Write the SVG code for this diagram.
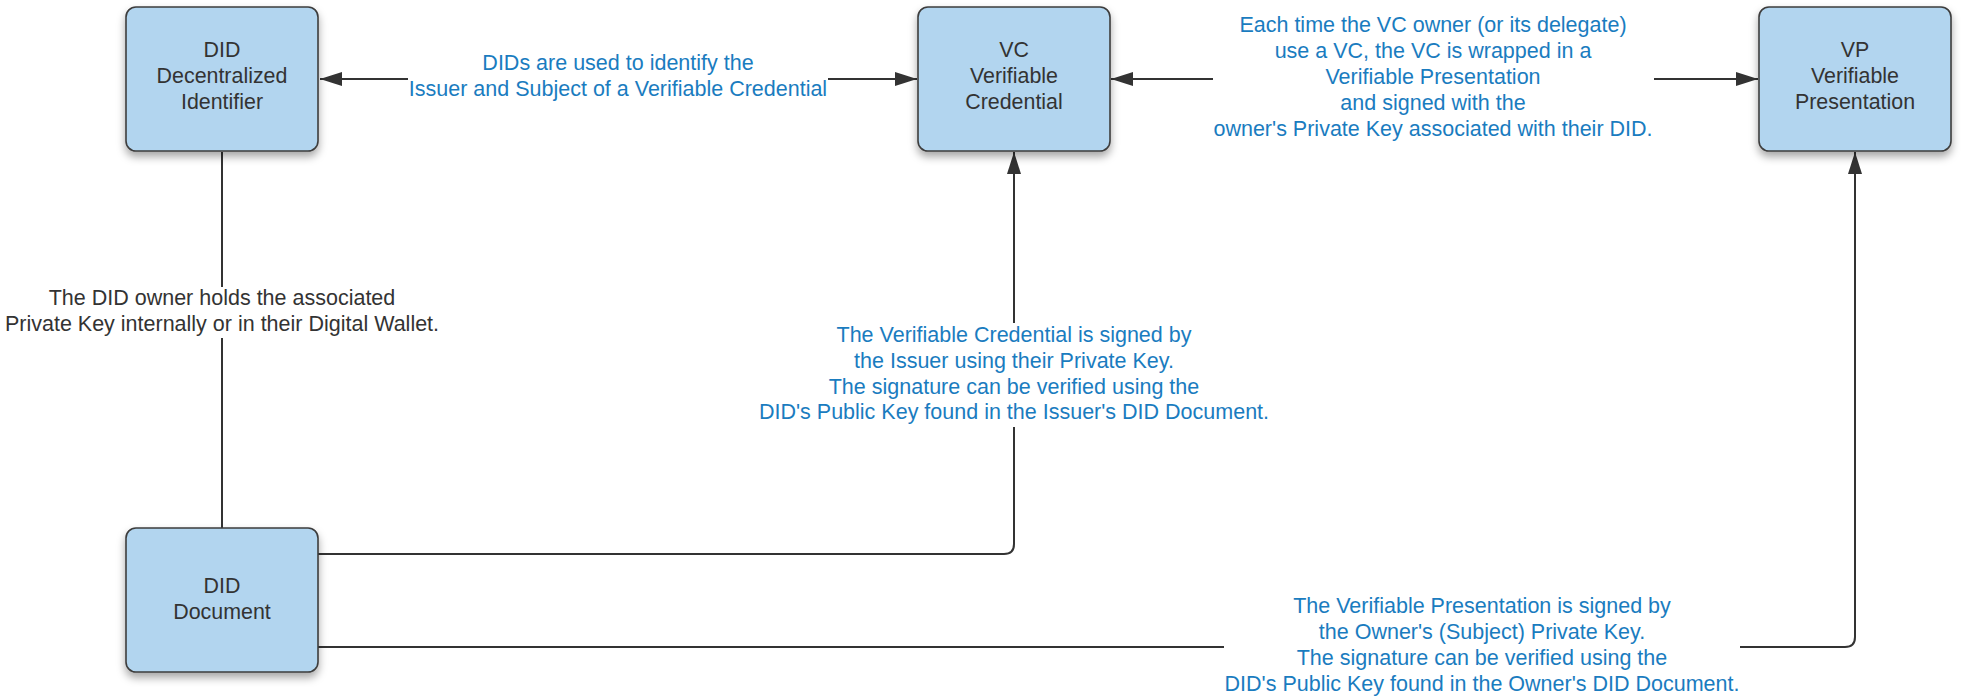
<svg xmlns="http://www.w3.org/2000/svg" width="1961" height="697" viewBox="0 0 1961 697">
  <style>
    .node rect { fill: #b2d5ef; stroke: #3d3d3d; stroke-width: 1.6; filter: url(#shadow); }
    .node text { font-family: "Liberation Sans", Arial, sans-serif; font-size: 21.4px; fill: #333333; text-anchor: middle; }
    .conn { fill: none; stroke: #333333; stroke-width: 2; }
    .lbl { font-family: "Liberation Sans", Arial, sans-serif; font-size: 21.5px; text-anchor: middle; }
    .blue { fill: #1a7cbf; }
    .dark { fill: #333333; }
  </style>
  <defs>
    <filter id="shadow" x="-20%" y="-20%" width="140%" height="150%">
      <feDropShadow dx="0" dy="5" stdDeviation="4" flood-color="#000000" flood-opacity="0.35"/>
    </filter>
    <marker id="arrow" markerUnits="userSpaceOnUse" markerWidth="24" markerHeight="16" viewBox="-22 -8 24 16" refX="0" refY="0" orient="auto">
      <path d="M0,0 L-22,-7 L-22,7 Z" fill="#333333"/>
    </marker>
  </defs>

  <rect width="1961" height="697" fill="#ffffff"/>

  <!-- connectors -->
  <g id="connectors">
    <!-- DID <-> VC -->
    <line class="conn" x1="408" y1="79" x2="320" y2="79" marker-end="url(#arrow)"/>
    <line class="conn" x1="828" y1="79" x2="917" y2="79" marker-end="url(#arrow)"/>
    <!-- VC <-> VP -->
    <line class="conn" x1="1213" y1="79" x2="1111" y2="79" marker-end="url(#arrow)"/>
    <line class="conn" x1="1654" y1="79" x2="1758" y2="79" marker-end="url(#arrow)"/>
    <!-- DID to DID Document -->
    <line class="conn" x1="222" y1="152" x2="222" y2="287"/>
    <line class="conn" x1="222" y1="338" x2="222" y2="528"/>
    <!-- DID Document to VC -->
    <path class="conn" d="M318,554 L1004,554 Q1014,554 1014,544 L1014,427"/>
    <line class="conn" x1="1014" y1="323" x2="1014" y2="152" marker-end="url(#arrow)"/>
    <!-- DID Document to VP -->
    <line class="conn" x1="318" y1="647" x2="1224" y2="647"/>
    <path class="conn" d="M1740,647 L1845,647 Q1855,647 1855,637 L1855,152" marker-end="url(#arrow)"/>

    <!-- connector labels -->
    <text class="lbl blue" x="618" y="70">DIDs are used to identify the</text>
    <text class="lbl blue" x="618" y="96">Issuer and Subject of a Verifiable Credential</text>

    <text class="lbl blue" x="1433" y="32">Each time the VC owner (or its delegate)</text>
    <text class="lbl blue" x="1433" y="58">use a VC, the VC is wrapped in a</text>
    <text class="lbl blue" x="1433" y="84">Verifiable Presentation</text>
    <text class="lbl blue" x="1433" y="110">and signed with the</text>
    <text class="lbl blue" x="1433" y="136">owner's Private Key associated with their DID.</text>

    <text class="lbl dark" x="222" y="305">The DID owner holds the associated</text>
    <text class="lbl dark" x="222" y="331">Private Key internally or in their Digital Wallet.</text>

    <text class="lbl blue" x="1014" y="342">The Verifiable Credential is signed by</text>
    <text class="lbl blue" x="1014" y="368">the Issuer using their Private Key.</text>
    <text class="lbl blue" x="1014" y="393.5">The signature can be verified using the</text>
    <text class="lbl blue" x="1014" y="419">DID's Public Key found in the Issuer's DID Document.</text>

    <text class="lbl blue" x="1482" y="613">The Verifiable Presentation is signed by</text>
    <text class="lbl blue" x="1482" y="639">the Owner's (Subject) Private Key.</text>
    <text class="lbl blue" x="1482" y="665">The signature can be verified using the</text>
    <text class="lbl blue" x="1482" y="691">DID's Public Key found in the Owner's DID Document.</text>
  </g>

  <!-- nodes -->
  <g id="did" class="node">
    <rect x="126" y="7" width="192" height="144" rx="10"/>
    <text x="222" y="57">DID</text>
    <text x="222" y="83">Decentralized</text>
    <text x="222" y="109">Identifier</text>
  </g>

  <g id="vc" class="node">
    <rect x="918" y="7" width="192" height="144" rx="10"/>
    <text x="1014" y="57">VC</text>
    <text x="1014" y="83">Verifiable</text>
    <text x="1014" y="109">Credential</text>
  </g>

  <g id="vp" class="node">
    <rect x="1759" y="7" width="192" height="144" rx="10"/>
    <text x="1855" y="57">VP</text>
    <text x="1855" y="83">Verifiable</text>
    <text x="1855" y="109">Presentation</text>
  </g>

  <g id="did-document" class="node">
    <rect x="126" y="528" width="192" height="144" rx="10"/>
    <text x="222" y="593">DID</text>
    <text x="222" y="619">Document</text>
  </g>
</svg>
